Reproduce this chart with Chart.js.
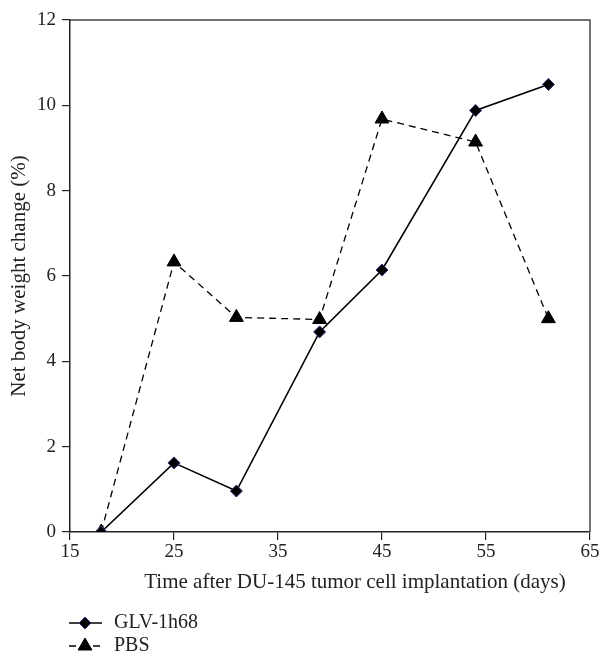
<!DOCTYPE html>
<html>
<head>
<meta charset="utf-8">
<script src="https://cdn.jsdelivr.net/npm/chart.js@4.4.1/dist/chart.umd.min.js"></script>
<style>
  html, body { margin: 0; padding: 0; background: #fff; }
  #wrap { width: 604px; height: 664px; }
</style>
</head>
<body>
<div id="wrap"><canvas id="bodyWeightChart"></canvas></div>
<script>
// Days after implantation and net body weight change (%)
const days = [18, 25, 31, 39, 45, 54, 61];
const glvWeightChange = [0, 1.62, 0.96, 4.69, 6.14, 9.88, 10.49];
const pbsWeightChange = [0, 6.33, 5.03, 4.98, 9.68, 9.14, 5.0];
const xTickValues = [15, 25, 35, 45, 55, 65];
const yTickValues = [0, 2, 4, 6, 8, 10, 12];
const seriesNames = ['GLV-1h68', 'PBS'];
const xTitle = 'Time after DU-145 tumor cell implantation (days)';
const yTitle = 'Net body weight change (%)';

const serif = "'Liberation Serif', 'DejaVu Serif', serif";
const ink = '#222';

// top/right frame, x axis title and the legend under the plot
const framePlugin = {
    id: 'frameAndLegend',
    afterDraw(chart) {
        const ctx = chart.ctx;
        const area = chart.chartArea;
        ctx.save();
        ctx.strokeStyle = '#444';
        ctx.lineWidth = 1.5;
        ctx.beginPath();
        ctx.moveTo(area.left, area.top);
        ctx.lineTo(area.right, area.top);
        ctx.lineTo(area.right, area.bottom);
        ctx.stroke();

        ctx.fillStyle = ink;
        ctx.font = '21px ' + serif;
        ctx.textAlign = 'center';
        ctx.textBaseline = 'middle';
        ctx.fillText(xTitle, 355, 582);

        chart.data.datasets.forEach((ds, i) => {
            const y = 623 + i * 23;
            ctx.strokeStyle = ds.borderColor;
            ctx.lineWidth = ds.borderWidth;
            ctx.setLineDash(ds.borderDash || []);
            ctx.beginPath();
            ctx.moveTo(69, y);
            ctx.lineTo(102, y);
            ctx.stroke();
            ctx.setLineDash([]);
            ctx.fillStyle = ds.pointBackgroundColor;
            ctx.strokeStyle = ds.pointBorderColor;
            ctx.lineWidth = ds.pointBorderWidth;
            Chart.helpers.drawPoint(ctx, {
                pointStyle: ds.pointStyle,
                radius: ds.pointRadius,
                borderWidth: ds.pointBorderWidth,
                rotation: 0
            }, 85, y);
            ctx.fillStyle = ink;
            ctx.font = '20px ' + serif;
            ctx.textAlign = 'left';
            ctx.fillText(ds.label, 114, y);
        });
        ctx.restore();
    }
};

const bodyWeightChart = new Chart(document.getElementById('bodyWeightChart').getContext('2d'), {
    type: 'line',
    data: {
        datasets: [{
            label: seriesNames[0],
            data: days.map((d, i) => ({x: d, y: glvWeightChange[i]})),
            borderColor: '#000',
            borderWidth: 1.6,
            pointStyle: 'rectRot',
            pointRadius: 6,
            pointBackgroundColor: '#000',
            pointBorderColor: '#2a2a6e',
            pointBorderWidth: 1,
            tension: 0
        }, {
            label: seriesNames[1],
            data: days.map((d, i) => ({x: d, y: pbsWeightChange[i]})),
            borderColor: '#000',
            borderWidth: 1.3,
            borderDash: [7, 5],
            pointStyle: 'triangle',
            pointRadius: 8,
            pointBackgroundColor: '#000',
            pointBorderColor: '#000',
            pointBorderWidth: 1,
            tension: 0
        }]
    },
    options: {
        responsive: true,
        maintainAspectRatio: false,
        animation: false,
        layout: {
            padding: {top: 20, right: 14, left: 0, bottom: 62}
        },
        scales: {
            x: {
                type: 'linear',
                min: 15,
                max: 65,
                afterBuildTicks: (scale) => {
                    scale.ticks = xTickValues.map(v => ({value: v}));
                },
                afterFit: (scale) => { scale.height = 70; },
                grid: {drawOnChartArea: false, tickLength: 8, color: ink, lineWidth: 1.2},
                border: {color: ink, width: 1.5},
                ticks: {color: ink, font: {family: serif, size: 19}, padding: 1, maxRotation: 0}
            },
            y: {
                min: 0,
                max: 12,
                afterBuildTicks: (scale) => {
                    scale.ticks = yTickValues.map(v => ({value: v}));
                },
                afterFit: (scale) => { scale.width = 70; },
                grid: {drawOnChartArea: false, tickLength: 8, color: ink, lineWidth: 1.2},
                border: {color: ink, width: 1.5},
                ticks: {color: ink, font: {family: serif, size: 19}, padding: 6},
                title: {
                    display: true,
                    text: yTitle,
                    color: ink,
                    font: {family: serif, size: 21},
                    padding: {top: 7, bottom: 0}
                }
            }
        },
        plugins: {
            legend: {display: false},
            tooltip: {enabled: false}
        }
    },
    plugins: [framePlugin]
});
</script>
</body>
</html>
